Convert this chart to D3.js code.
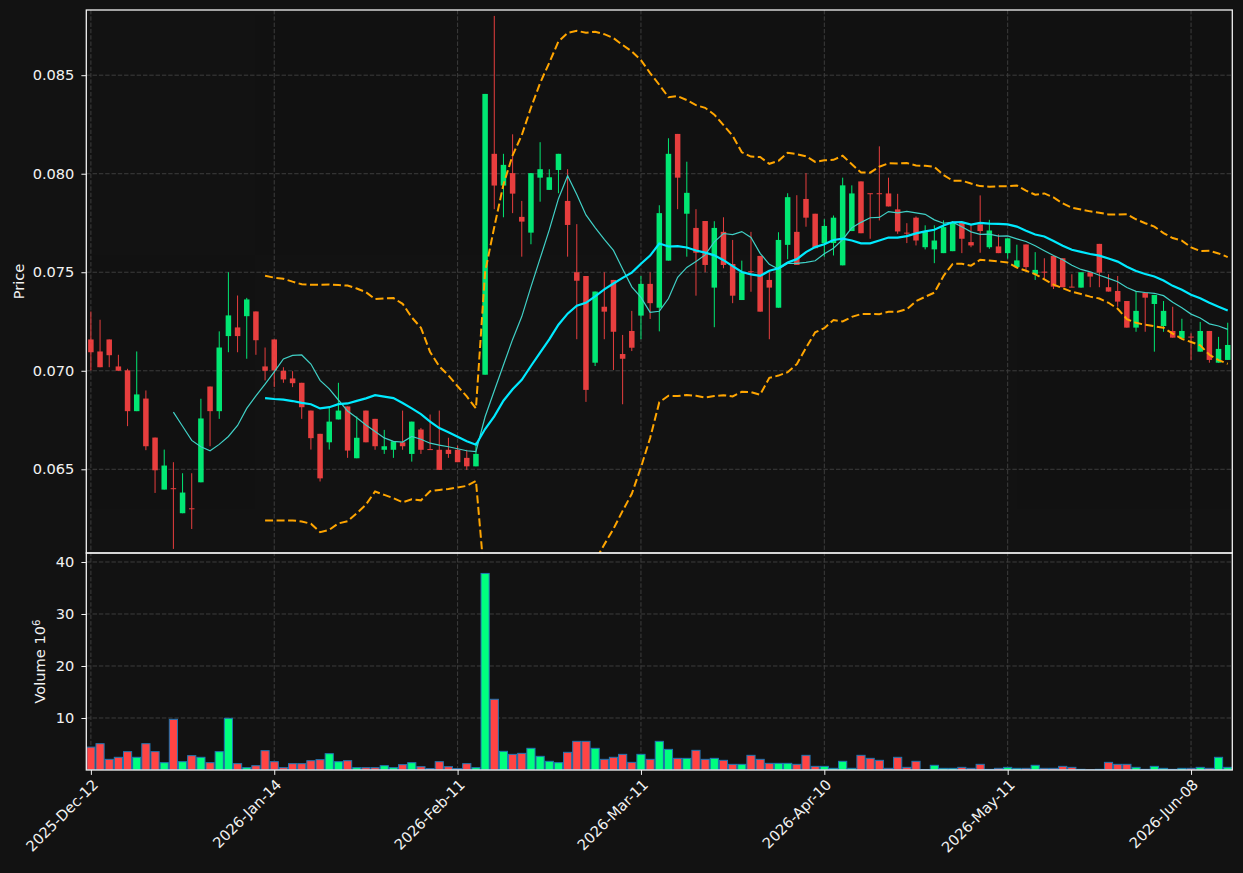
<!DOCTYPE html>
<html><head><meta charset="utf-8">
<script src="https://cdn.jsdelivr.net/npm/d3@7"></script>
<style>html,body{margin:0;padding:0;background:#121212;} svg{display:block;}</style>
</head><body>
<svg id="chart" width="1243" height="873"></svg>
<script>
// ---------------- data ----------------
const opens = [0.07159,0.07098,0.07159,0.07022,0.07002,0.06795,0.06859,0.06661,0.06397,0.06402,
0.06277,0.06300,0.06434,0.06920,0.06795,0.07176,0.07220,0.07277,0.07301,0.07022,
0.07159,0.07000,0.06961,0.06939,0.06798,0.06680,0.06637,0.06753,0.06819,0.06556,
0.06798,0.06756,0.06599,0.06599,0.06637,0.06578,0.06702,0.06601,0.06599,0.06599,
0.06599,0.06558,0.06515,0.06980,0.08101,0.07940,0.08003,0.07781,0.07701,0.07980,
0.07918,0.08019,0.07862,0.07500,0.07481,0.07041,0.07325,0.07461,0.07085,0.07202,
0.07280,0.07441,0.07320,0.07559,0.08202,0.07797,0.07725,0.07760,0.07422,0.07705,
0.07542,0.07359,0.07505,0.07583,0.07461,0.07320,0.07639,0.07705,0.07872,0.07797,
0.07647,0.07648,0.07535,0.07709,0.07961,0.07899,0.07899,0.07900,0.07819,0.07699,
0.07777,0.07627,0.07616,0.07597,0.07607,0.07751,0.07653,0.07743,0.07627,0.07631,
0.07597,0.07526,0.07641,0.07491,0.07501,0.07583,0.07571,0.07425,0.07422,0.07500,
0.07644,0.07424,0.07405,0.07354,0.07219,0.07396,0.07339,0.07227,0.07202,0.07165,
0.07172,0.07097,0.07202,0.07041,0.07055];
const highs = [0.07301,0.07259,0.07159,0.07081,0.07010,0.07098,0.06900,0.06661,0.06600,0.06536,
0.06480,0.06480,0.06858,0.06920,0.07200,0.07500,0.07382,0.07370,0.07301,0.07118,
0.07159,0.07018,0.06998,0.06939,0.06798,0.06680,0.06815,0.06939,0.06819,0.06768,
0.06798,0.06756,0.06700,0.06642,0.06798,0.06742,0.06710,0.06778,0.06798,0.06660,
0.06620,0.06599,0.06637,0.08405,0.08801,0.08101,0.08200,0.07862,0.08003,0.08160,
0.08023,0.08101,0.08023,0.07744,0.07481,0.07402,0.07500,0.07461,0.07182,0.07304,
0.07481,0.07500,0.07840,0.08180,0.08202,0.08061,0.07820,0.07760,0.07759,0.07779,
0.07664,0.07559,0.07705,0.07583,0.07500,0.07703,0.07901,0.07891,0.08003,0.07797,
0.07769,0.07788,0.07980,0.07941,0.07961,0.07899,0.08139,0.07980,0.07898,0.07749,
0.07783,0.07738,0.07738,0.07763,0.07760,0.07751,0.07743,0.07890,0.07766,0.07692,
0.07672,0.07640,0.07641,0.07602,0.07571,0.07583,0.07571,0.07490,0.07500,0.07500,
0.07644,0.07490,0.07481,0.07354,0.07405,0.07396,0.07385,0.07354,0.07325,0.07264,
0.07190,0.07248,0.07202,0.07172,0.07244];
const lows = [0.07002,0.07018,0.07018,0.07000,0.06719,0.06795,0.06597,0.06380,0.06397,0.06096,
0.06277,0.06197,0.06434,0.06617,0.06756,0.07094,0.07094,0.07061,0.07081,0.06951,
0.06917,0.06939,0.06917,0.06756,0.06600,0.06438,0.06600,0.06753,0.06558,0.06556,
0.06637,0.06599,0.06578,0.06558,0.06599,0.06539,0.06578,0.06599,0.06497,0.06558,
0.06536,0.06497,0.06515,0.06980,0.07820,0.07779,0.07800,0.07579,0.07642,0.07858,
0.07918,0.07901,0.07579,0.07160,0.06842,0.07024,0.07160,0.07004,0.06830,0.07100,
0.07160,0.07263,0.07200,0.07559,0.07820,0.07579,0.07381,0.07500,0.07221,0.07520,
0.07343,0.07359,0.07401,0.07300,0.07160,0.07320,0.07566,0.07537,0.07731,0.07622,
0.07579,0.07585,0.07535,0.07709,0.07698,0.07670,0.07763,0.07834,0.07695,0.07648,
0.07636,0.07616,0.07546,0.07597,0.07607,0.07597,0.07627,0.07599,0.07619,0.07597,
0.07569,0.07526,0.07509,0.07461,0.07461,0.07415,0.07424,0.07424,0.07422,0.07424,
0.07424,0.07402,0.07325,0.07219,0.07198,0.07198,0.07097,0.07198,0.07168,0.07165,
0.07055,0.07097,0.07041,0.07041,0.07055];
const closes = [0.07094,0.07018,0.07079,0.07000,0.06795,0.06880,0.06617,0.06495,0.06519,0.06401,
0.06382,0.06299,0.06758,0.06795,0.07118,0.07281,0.07176,0.07362,0.07155,0.07000,
0.07002,0.06956,0.06937,0.06815,0.06658,0.06454,0.06742,0.06798,0.06595,0.06660,
0.06637,0.06617,0.06617,0.06642,0.06617,0.06742,0.06599,0.06599,0.06497,0.06578,
0.06536,0.06515,0.06578,0.08405,0.07940,0.08045,0.07899,0.07757,0.08003,0.08023,
0.07982,0.08101,0.07740,0.07457,0.06903,0.07402,0.07300,0.07198,0.07061,0.07117,
0.07441,0.07343,0.07800,0.08101,0.07980,0.07903,0.07599,0.07537,0.07725,0.07537,
0.07381,0.07500,0.07500,0.07300,0.07422,0.07664,0.07881,0.07537,0.07777,0.07622,
0.07735,0.07777,0.07941,0.07900,0.07698,0.07898,0.07898,0.07834,0.07707,0.07698,
0.07661,0.07704,0.07661,0.07729,0.07751,0.07670,0.07636,0.07709,0.07712,0.07597,
0.07672,0.07560,0.07526,0.07512,0.07500,0.07427,0.07424,0.07424,0.07500,0.07478,
0.07498,0.07402,0.07351,0.07219,0.07304,0.07371,0.07385,0.07304,0.07168,0.07202,
0.07170,0.07202,0.07055,0.07111,0.07131];
// volume in units of 10^6
const volumes = [4.4,5.06,2.05,2.44,3.53,2.44,5.06,3.53,1.41,9.74,
1.6,2.76,2.44,1.41,3.53,9.94,1.22,0.45,0.83,3.72,
1.6,0.45,1.22,1.22,1.79,1.99,3.14,1.6,1.79,0.45,
0.45,0.45,0.83,0.45,1.03,1.41,0.64,0.26,1.6,0.64,
0.26,1.22,0.45,37.8,13.6,3.59,3.01,3.2,4.17,2.63,
1.67,1.41,3.4,5.51,5.51,4.17,2.05,2.44,3.01,1.47,
3.01,2.05,5.51,3.97,2.24,2.24,3.78,2.05,2.24,1.86,
1.09,1.09,2.82,2.05,1.28,1.28,1.28,1.09,2.82,0.7,
0.7,0.32,1.67,0.32,2.82,2.24,1.86,0.32,2.44,0.51,
1.67,0.1,0.9,0.32,0.32,0.51,0.32,1.09,0.13,0.32,
0.51,0.32,0.32,0.9,0.32,0.32,0.7,0.51,0.13,0.05,
0.13,1.47,1.09,1.09,0.51,0.13,0.7,0.32,0.13,0.32,
0.32,0.51,0.32,2.44,0.51];
const tickIndex = [0,20,40,60,80,100,120];
const tickLabels = ["2025-Dec-12","2026-Jan-14","2026-Feb-11","2026-Mar-11","2026-Apr-10","2026-May-11","2026-Jun-08"];
const priceTicks = [0.065,0.070,0.075,0.080,0.085];
const volumeTicks = [10,20,30,40];
const maShortPeriod = 10, maLongPeriod = 20, bbPeriod = 20, bbK = 2;

// ---------------- derived ----------------
const n = closes.length;
const idx = d3.range(n);
function rollingMean(arr, p){ return arr.map((v,i)=> i < p-1 ? null : d3.mean(arr.slice(i-p+1,i+1))); }
function rollingStd(arr, p){ return arr.map((v,i)=> { if(i<p-1) return null; const s=arr.slice(i-p+1,i+1); const m=d3.mean(s); return Math.sqrt(d3.mean(s.map(x=>(x-m)*(x-m)))); }); }
const maShort = rollingMean(closes, maShortPeriod);
const maLong = rollingMean(closes, maLongPeriod);
const bbMid = rollingMean(closes, bbPeriod);
const bbStd = rollingStd(closes, bbPeriod);
const bbUp = bbMid.map((m,i)=> m==null?null: m + bbK*bbStd[i]);
const bbLo = bbMid.map((m,i)=> m==null?null: m - bbK*bbStd[i]);

// ---------------- layout ----------------
const BG = "#121212", FG = "#f2f2f2";
const UP = "#00ff7f", DOWN = "#ff4444";
const L = 86.3, R = 1232.3, PT = 10, PB = 553, VB = 770;
const FONT = "DejaVu Sans, sans-serif", FS = "14.6px";

const svg = d3.select("#chart");
svg.append("rect").attr("width",1243).attr("height",873).attr("fill",BG);

const x = d3.scaleLinear().domain([-0.5, n-0.5]).range([L, R]);
const yP = d3.scaleLinear().domain([0.060752, 0.088309]).range([PB, PT]);
const yV = d3.scaleLinear().domain([0, 41.73]).range([VB, PB]);
const step = x(1) - x(0);

const defs = svg.append("defs");
defs.append("clipPath").attr("id","clipP").append("rect").attr("x",L).attr("y",PT).attr("width",R-L).attr("height",PB-PT);
defs.append("clipPath").attr("id","clipV").append("rect").attr("x",L).attr("y",PB).attr("width",R-L).attr("height",VB-PB);

// grid
const grid = svg.append("g").attr("stroke","#3d3d3d").attr("stroke-width",1).attr("stroke-dasharray","4.4,1.9");
grid.selectAll("line.hp").data(priceTicks).join("line").attr("x1",L).attr("x2",R).attr("y1",d=>yP(d)).attr("y2",d=>yP(d));
grid.selectAll("line.hv").data(volumeTicks).join("line").attr("x1",L).attr("x2",R).attr("y1",d=>yV(d)).attr("y2",d=>yV(d));
grid.selectAll("line.vp").data(tickIndex).join("line").attr("x1",d=>x(d)).attr("x2",d=>x(d)).attr("y1",PT).attr("y2",VB);

// volume bars
const vg = svg.append("g").attr("clip-path","url(#clipV)");
vg.selectAll("rect").data(idx).join("rect")
  .attr("x", i => x(i - 0.5) + 0.5)
  .attr("width", step - 1)
  .attr("y", i => yV(volumes[i]))
  .attr("height", i => yV(0) - yV(volumes[i]))
  .attr("fill", i => closes[i] >= opens[i] ? UP : DOWN)
  .attr("stroke", "#1f77b4").attr("stroke-width", 1);

// candles
const cg = svg.append("g").attr("clip-path","url(#clipP)").attr("opacity",0.9);
cg.selectAll("line").data(idx).join("line")
  .attr("x1", i=>x(i)).attr("x2", i=>x(i))
  .attr("y1", i=>yP(highs[i])).attr("y2", i=>yP(lows[i]))
  .attr("stroke", i => closes[i] >= opens[i] ? UP : DOWN).attr("stroke-width", 1);
const bw = step * 0.6;
cg.selectAll("rect").data(idx).join("rect")
  .attr("x", i => x(i) - bw/2).attr("width", bw)
  .attr("y", i => { const t = yP(Math.max(opens[i],closes[i])), b = yP(Math.min(opens[i],closes[i])); return b - t < 1 ? (t+b)/2 - 0.5 : t; })
  .attr("height", i => Math.max(1, yP(Math.min(opens[i],closes[i])) - yP(Math.max(opens[i],closes[i]))))
  .attr("fill", i => closes[i] >= opens[i] ? UP : DOWN);

// lines
const lg = svg.append("g").attr("clip-path","url(#clipP)").attr("fill","none");
const lineGen = arr => d3.line().defined(i => arr[i] != null).x(i => x(i)).y(i => yP(arr[i]))(idx);
lg.append("path").attr("d", lineGen(bbUp)).attr("stroke","#ffa500").attr("stroke-width",2).attr("stroke-dasharray","8,3.5");
lg.append("path").attr("d", lineGen(bbLo)).attr("stroke","#ffa500").attr("stroke-width",2).attr("stroke-dasharray","8,3.5");
lg.append("path").attr("d", lineGen(maShort)).attr("stroke","#40d0c6").attr("stroke-width",1.2);
lg.append("path").attr("d", lineGen(maLong)).attr("stroke","#00eaff").attr("stroke-width",2.2);

// axes
function styleAxis(g){
  g.select(".domain").remove();
  g.selectAll(".tick line").attr("stroke", FG).attr("stroke-width", 1);
  g.selectAll(".tick text").attr("fill", FG).attr("font-family", FONT).attr("font-size", FS)
    .style("font-family", FONT).style("font-size", FS);
}
svg.append("g").attr("transform",`translate(${L},0)`)
  .call(d3.axisLeft(yP).tickValues(priceTicks).tickFormat(d3.format(".3f")).tickSize(4.9).tickPadding(7))
  .call(styleAxis);
svg.append("g").attr("transform",`translate(${L},0)`)
  .call(d3.axisLeft(yV).tickValues(volumeTicks).tickFormat(d3.format("d")).tickSize(4.9).tickPadding(7))
  .call(styleAxis);
const xa = svg.append("g").attr("transform",`translate(0,${VB})`)
  .call(d3.axisBottom(x).tickValues(tickIndex).tickFormat((d,i)=>tickLabels[i]).tickSize(4.9))
  .call(styleAxis);
xa.selectAll(".tick text").attr("text-anchor","end").attr("x",0).attr("y",0).attr("dy",null)
  .attr("transform","translate(7.6,15.6) rotate(-45)");

// spines
const sp = svg.append("g").attr("fill","none").attr("stroke", FG).attr("stroke-width",1.3);
sp.append("rect").attr("x",L).attr("y",PT).attr("width",R-L).attr("height",PB-PT);
sp.append("rect").attr("x",L).attr("y",PB).attr("width",R-L).attr("height",VB-PB);

// axis labels
svg.append("text").attr("transform",`translate(23.5,${(PT+PB)/2}) rotate(-90)`).attr("text-anchor","middle")
  .attr("fill",FG).style("font-family",FONT).style("font-size",FS).text("Price");
const vl = svg.append("text").attr("transform",`translate(44.5,${(PB+VB)/2}) rotate(-90)`).attr("text-anchor","middle")
  .attr("fill",FG).style("font-family",FONT).style("font-size",FS);
vl.append("tspan").text("Volume  10");
vl.append("tspan").attr("dy","-0.45em").style("font-size","10.2px").text("6");
</script>
</body></html>
